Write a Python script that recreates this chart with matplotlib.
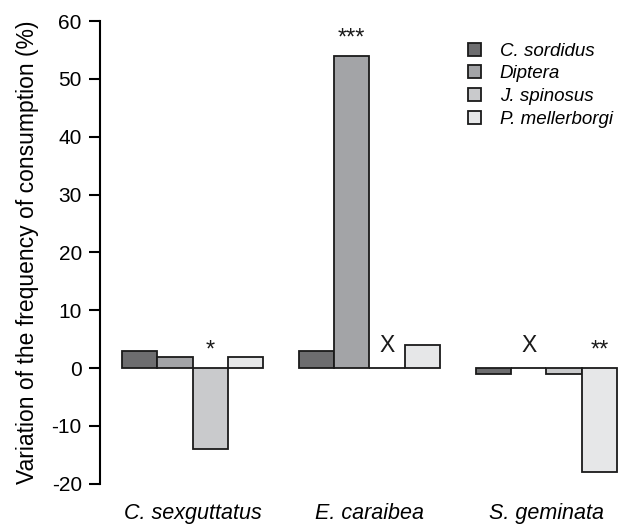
import matplotlib.pyplot as plt
import numpy as np

plt.rcParams['font.family'] = ['Liberation Sans', 'DejaVu Sans']
plt.rcParams['axes.unicode_minus'] = False

# prey species per predator
predators = ['C. sexguttatus', 'E. caraibea', 'S. geminata']
prey = ['C. sordidus', 'Diptera', 'J. spinosus', 'P. mellerborgi']
colors = ['#6d6d6f', '#a3a4a7', '#c9cacc', '#e6e7e8']

# variation of frequency (%) per prey, one list per predator
c_sexguttatus = [3, 2, -14, 2]
e_caraibea = [3, 54, 0, 4]
s_geminata = [-1, 0, -1, -18]
values = np.array([c_sexguttatus, e_caraibea, s_geminata])

# significance marks (predator index, prey index, text)
marks = [(0, 2, '*'), (1, 1, '***'), (1, 2, 'X'), (2, 1, 'X'), (2, 3, '**')]

fig = plt.figure(figsize=(6.2, 5.27), dpi=100)
ax = fig.add_axes([0.161, 0.082, 0.839, 0.878])

centers = np.arange(len(predators)) * 5.0
offsets = np.array([-1.5, -0.5, 0.5, 1.5])
for j, name in enumerate(prey):
    ax.bar(centers + offsets[j], values[:, j], width=1.0, color=colors[j],
           edgecolor='#1a1a1a', linewidth=1.3, label=name)

for i, j, txt in marks:
    v = max(values[i, j], 0)
    if txt == 'X':
        ax.text(centers[i] + offsets[j], v + 1.9, txt, ha='center', va='bottom',
                fontsize=16.5, color='#1a1a1a')
    else:
        ax.text(centers[i] + offsets[j], v + 1.1, txt, ha='center', va='bottom',
                fontsize=17, color='#1a1a1a')

ax.set_xlim(-2.62, 12.08)
ax.set_ylim(-20, 60)
ax.set_yticks(np.arange(-20, 61, 10))
ax.set_xticks(centers)
ax.set_xticklabels(predators, fontstyle='italic', fontsize=15.5)
ax.tick_params(axis='x', length=0, pad=14)
ax.tick_params(axis='y', direction='out', length=8, width=1.5, labelsize=15, pad=5)
for s in ['top', 'right', 'bottom']:
    ax.spines[s].set_visible(False)
ax.spines['left'].set_linewidth(1.5)
ax.set_ylabel('Variation of the frequency of consumption (%)', fontsize=16.5, labelpad=9)

leg = ax.legend(loc='upper left', bbox_to_anchor=(0.675, 0.99), frameon=False,
                prop={'style': 'italic', 'size': 13.5}, handlelength=0.7,
                handleheight=0.7, handletextpad=1.0, labelspacing=0.3)

fig.savefig('out.png', dpi=100)
